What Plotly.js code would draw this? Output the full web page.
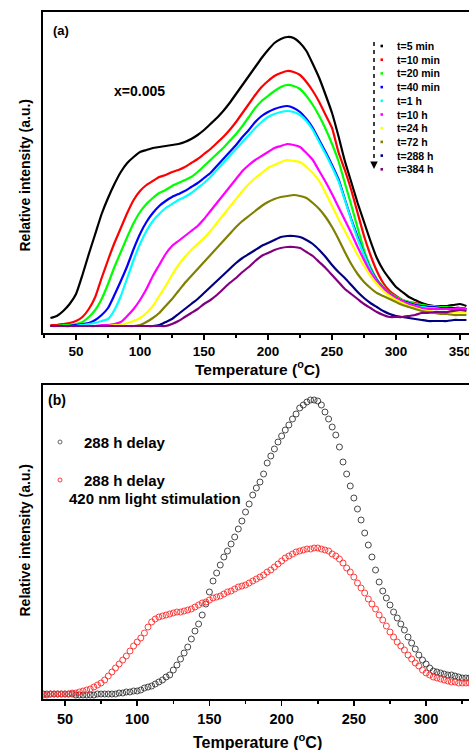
<!DOCTYPE html>
<html>
<head>
<meta charset="utf-8">
<script src="https://cdn.plot.ly/plotly-3.0.1.min.js"></script>
<style>
  html, body { margin: 0; padding: 0; background: #fff; overflow: hidden; }
  #chart { width: 469px; height: 750px; }
</style>
</head>
<body>
<div id="chart"></div>
<script>
// ---------- Panel (a): TL glow curves after different delays (x = 0.005) ----------
const tempA = [30, 35, 40, 45, 50, 55, 60, 65, 70, 75,
               80, 85, 90, 95, 100, 105, 110, 115, 120, 125,
               130, 135, 140, 145, 150, 155, 160, 165, 170, 175,
               180, 185, 190, 195, 200, 205, 210, 215, 220, 225,
               230, 235, 240, 245, 250, 255, 260, 265, 270, 275,
               280, 285, 290, 295, 300, 305, 310, 315, 320, 325,
               330, 335, 340, 345, 350, 355];

const delayLabels = ["t=5 min", "t=10 min", "t=20 min", "t=40 min", "t=1 h",
                     "t=10 h", "t=24 h", "t=72 h", "t=288 h", "t=384 h"];

const t5min = [15, 17, 22, 29, 39, 58, 79, 99, 119, 135,
               149, 161, 170, 176, 181, 183, 185, 186, 187, 188,
               189, 191, 194, 198, 203, 209, 215, 222, 230, 239,
               248, 257, 266, 275, 283, 290, 294, 296, 295, 290,
               282, 269, 255, 238, 220, 197, 172, 151, 130, 111,
               92, 75, 63, 54, 46, 41, 36, 33, 30, 28,
               27, 27, 27, 28, 29, 27];
const t10min = [8, 8, 9, 10, 12, 16, 24, 36, 55, 73,
                90, 105, 120, 133, 142, 148, 152, 156, 158, 161,
                163, 166, 170, 174, 179, 184, 190, 196, 203, 211,
                220, 229, 238, 246, 252, 257, 260, 262, 261, 258,
                251, 242, 231, 218, 205, 181, 163, 143, 120, 97,
                78, 62, 50, 42, 37, 33, 31, 30, 28, 27,
                26, 26, 25, 25, 25, 24];
const t20min = [7, 7, 8, 8, 9, 11, 16, 23, 34, 49,
                66, 81, 96, 110, 121, 129, 135, 140, 143, 147,
                150, 153, 156, 161, 167, 173, 179, 185, 192, 199,
                207, 216, 225, 232, 237, 242, 246, 248, 247, 244,
                237, 228, 217, 204, 189, 172, 150, 128, 105, 83,
                66, 54, 46, 40, 36, 33, 31, 29, 28, 27,
                27, 26, 26, 25, 25, 24];
const t40min = [7, 7, 7, 7, 8, 9, 10, 13, 18, 25,
                38, 52, 67, 84, 99, 111, 120, 127, 132, 136,
                139, 142, 146, 150, 155, 160, 167, 174, 181, 188,
                196, 203, 211, 217, 221, 224, 226, 227, 225, 221,
                214, 205, 193, 181, 168, 154, 134, 114, 96, 79,
                64, 53, 45, 39, 35, 32, 30, 28, 27, 26,
                26, 25, 25, 25, 25, 24];
const t1h = [7, 7, 7, 7, 7, 8, 9, 10, 12, 14,
             23, 37, 55, 73, 89, 102, 112, 119, 125, 129,
             133, 136, 140, 145, 150, 156, 163, 170, 177, 184,
             191, 198, 205, 211, 216, 219, 221, 222, 221, 218,
             212, 203, 191, 179, 166, 152, 133, 113, 94, 78,
             63, 52, 44, 38, 34, 31, 29, 27, 26, 25,
             25, 24, 24, 24, 24, 23];
const t10h = [7, 7, 7, 7, 7, 7, 7, 7, 8, 8,
              9, 11, 17, 24, 33, 44, 57, 68, 79, 87,
              92, 97, 102, 107, 114, 122, 130, 138, 146, 154,
              162, 168, 173, 177, 181, 185, 187, 189, 188, 186,
              180, 173, 162, 151, 139, 126, 113, 100, 86, 73,
              61, 52, 45, 39, 35, 32, 29, 27, 25, 24,
              24, 24, 24, 24, 25, 24];
const t24h = [7, 7, 7, 7, 7, 7, 7, 7, 7, 7,
              8, 8, 10, 12, 15, 20, 27, 37, 47, 58,
              68, 76, 83, 89, 95, 102, 110, 118, 126, 134,
              142, 149, 155, 160, 165, 168, 171, 173, 172, 171,
              166, 160, 152, 140, 127, 114, 102, 90, 78, 67,
              57, 49, 42, 37, 33, 30, 27, 25, 23, 22,
              21, 21, 21, 21, 21, 20];
const t72h = [7, 7, 7, 7, 7, 7, 7, 7, 7, 7,
              7, 7, 7, 7, 8, 11, 15, 20, 27, 34,
              42, 50, 57, 64, 71, 78, 85, 92, 99, 106,
              112, 117, 122, 127, 131, 134, 136, 137, 138, 137,
              135, 130, 124, 116, 106, 94, 81, 69, 59, 51,
              45, 40, 37, 34, 31, 28, 26, 24, 22, 21,
              20, 19, 19, 18, 18, 18];
const t288h = [7, 7, 7, 7, 7, 7, 7, 7, 7, 7,
               7, 7, 7, 7, 7, 7, 7, 8, 11, 14,
               19, 24, 29, 34, 40, 46, 52, 58, 64, 70,
               75, 79, 83, 87, 90, 93, 96, 97, 97, 96,
               93, 89, 83, 76, 68, 61, 55, 48, 41, 35,
               30, 26, 22, 19, 17, 16, 15, 14, 13, 12,
               12, 12, 12, 13, 13, 13];
const t384h = [7, 7, 7, 7, 7, 7, 7, 7, 7, 7,
               7, 7, 7, 7, 7, 7, 7, 7, 7, 9,
               12, 16, 20, 24, 29, 33, 38, 44, 50, 55,
               61, 66, 72, 77, 80, 83, 85, 86, 86, 85,
               81, 77, 71, 65, 58, 51, 44, 39, 34, 29,
               25, 21, 18, 16, 16, 16, 17, 18, 20, 20,
               21, 21, 21, 22, 23, 22];

const seriesA = [t5min, t10min, t20min, t40min, t1h, t10h, t24h, t72h, t288h, t384h];
const colorsA = ["#000000", "#ff0000", "#00ff00", "#0000ff", "#00ffff",
                 "#ff00ff", "#ffff00", "#808000", "#000080", "#800080"];

// ---------- Panel (b): 288 h delay, with and without 420 nm stimulation ----------
const tempB = [35, 37.5, 40, 42.5, 45, 47.5, 50, 52.5, 55, 57.5,
               60, 62.5, 65, 67.5, 70, 72.5, 75, 77.5, 80, 82.5,
               85, 87.5, 90, 92.5, 95, 97.5, 100, 102.5, 105, 107.5,
               110, 112.5, 115, 117.5, 120, 122.5, 125, 127.5, 130, 132.5,
               135, 137.5, 140, 142.5, 145, 147.5, 150, 152.5, 155, 157.5,
               160, 162.5, 165, 167.5, 170, 172.5, 175, 177.5, 180, 182.5,
               185, 187.5, 190, 192.5, 195, 197.5, 200, 202.5, 205, 207.5,
               210, 212.5, 215, 217.5, 220, 222.5, 225, 227.5, 230, 232.5,
               235, 237.5, 240, 242.5, 245, 247.5, 250, 252.5, 255, 257.5,
               260, 262.5, 265, 267.5, 270, 272.5, 275, 277.5, 280, 282.5,
               285, 287.5, 290, 292.5, 295, 297.5, 300, 302.5, 305, 307.5,
               310, 312.5, 315, 317.5, 320, 322.5, 325, 327.5, 330];

const delay288 = [5, 5, 5, 5, 5, 5, 5, 5, 5, 4,
                  4, 4, 4, 4, 4, 5, 5, 5, 5, 5,
                  5, 6, 6, 7, 7, 8, 8, 9, 11, 12,
                  13, 15, 17, 19, 22, 24, 29, 34, 40, 46,
                  52, 60, 68, 75, 84, 95, 107, 118, 126, 134,
                  142, 148, 155, 162, 170, 178, 187, 195, 204, 211,
                  217, 225, 236, 243, 250, 257, 263, 269, 274, 280,
                  285, 291, 294, 297, 299, 299, 298, 294, 287, 280,
                  272, 264, 252, 237, 225, 213, 201, 190, 179, 166,
                  154, 142, 129, 117, 108, 101, 94, 87, 81, 75,
                  69, 62, 56, 50, 44, 39, 35, 31, 28, 27,
                  26, 25, 24, 24, 23, 22, 21, 21, 21];
const delay288Light = [4, 4, 5, 5, 5, 5, 5, 5, 6, 6,
                       7, 8, 9, 10, 12, 14, 16, 19, 23, 27,
                       31, 35, 39, 43, 48, 53, 57, 61, 66, 72,
                       77, 80, 82, 83, 84, 85, 86, 87, 87, 88,
                       89, 90, 92, 94, 96, 97, 99, 101, 102, 103,
                       105, 107, 108, 110, 112, 113, 114, 116, 118, 120,
                       122, 124, 127, 129, 132, 135, 138, 141, 143, 145,
                       147, 148, 149, 150, 150, 151, 151, 150, 149, 148,
                       145, 143, 140, 136, 131, 127, 122, 116, 111, 106,
                       100, 95, 90, 84, 79, 73, 67, 62, 57, 53,
                       49, 44, 40, 36, 33, 29, 26, 24, 22, 21,
                       20, 19, 18, 17, 17, 16, 16, 16, 16];

// ---------- page geometry helpers (pixel -> paper) ----------
const W = 469, H = 750, L = 43;
const px = p => (p - L) / (W - L);
const py = p => 1 - p / H;

const FONT = "Liberation Sans, Arial, Helvetica, sans-serif";

const traces = [];
seriesA.forEach((vals, i) => {
  traces.push({
    type: "scatter", mode: "lines", name: delayLabels[i],
    x: tempA, y: vals, xaxis: "x", yaxis: "y",
    line: { color: colorsA[i], width: 2.2, shape: "spline", smoothing: 0.5 },
    showlegend: false, hoverinfo: "skip"
  });
});
traces.push({
  type: "scatter", mode: "markers", name: "288 h delay",
  x: tempB, y: delay288, xaxis: "x2", yaxis: "y2",
  marker: { symbol: "circle-open", size: 6, color: "#333333", line: { width: 0.9 } },
  showlegend: false, hoverinfo: "skip"
});
traces.push({
  type: "scatter", mode: "markers", name: "288 h delay, 420 nm light stimulation",
  x: tempB, y: delay288Light, xaxis: "x2", yaxis: "y2",
  marker: { symbol: "circle-open", size: 6, color: "#ff2a2a", line: { width: 0.9 } },
  showlegend: false, hoverinfo: "skip"
});

function xAxis(range, anchor, fontSize, standoff) {
  return {
    anchor: anchor, range: range, domain: [0, 1],
    tick0: 0, dtick: 50, ticks: "outside", ticklen: 5, tickwidth: 1.5, tickcolor: "#000",
    minor: { ticks: "outside", ticklen: 3, tickwidth: 1.5, tickcolor: "#000", tick0: 0, dtick: 25, showgrid: false },
    showline: true, linewidth: 2, linecolor: "#000", mirror: true,
    showgrid: false, zeroline: false,
    ticklabeloverflow: "allow",
    ticklabelstandoff: standoff,
    tickfont: { family: FONT, size: fontSize, color: "#000", weight: "bold" }
  };
}
function yAxis(range, domain, anchor) {
  return {
    anchor: anchor, range: range, domain: domain,
    showline: true, linewidth: 2, linecolor: "#000", mirror: false,
    showticklabels: false, ticks: "", showgrid: false, zeroline: false
  };
}

const ann = [];
function txt(text, x, y, size, opts) {
  ann.push(Object.assign({
    text: text, xref: "paper", yref: "paper", x: px(x), y: py(y),
    xanchor: "left", yanchor: "middle", showarrow: false,
    font: { family: FONT, size: size, color: "#000", weight: "bold" }
  }, opts || {}));
}

// panel labels and notes
txt("(a)", 51, 30, 13);
txt("x=0.005", 112, 91, 14);
txt("(b)", 46, 400, 14);

// delay legend of panel (a)
const shapes = [];
delayLabels.forEach((lab, i) => {
  const yy = 46 + i * 13.7;
  txt(lab, 395, yy, 10.5);
  shapes.push({
    type: "rect", xref: "paper", yref: "paper",
    x0: px(380.5), x1: px(383), y0: py(yy + 1.3), y1: py(yy - 1.3),
    fillcolor: colorsA[i], line: { width: 0 }
  });
});
// dashed arrow showing increasing delay
shapes.push({
  type: "line", xref: "paper", yref: "paper",
  x0: px(374), x1: px(374), y0: py(42), y1: py(160),
  line: { color: "#000", width: 1.5, dash: "4px,4px" }
});
ann.push({
  text: " ", xref: "paper", yref: "paper", x: px(374), y: py(169),
  ax: 0, ay: -9, showarrow: true, arrowhead: 2, arrowsize: 1, arrowwidth: 1.5, arrowcolor: "#000",
  font: { size: 4 }
});

// legend of panel (b)
txt("288 h delay", 82, 442, 15);
txt("288 h delay", 82, 480, 15);
txt("420 nm light stimulation", 67, 498, 15);
shapes.push({ type: "circle", xref: "paper", yref: "paper",
  x0: px(58), x1: px(62), y0: py(444), y1: py(440), line: { color: "#555", width: 0.9 } });
shapes.push({ type: "circle", xref: "paper", yref: "paper",
  x0: px(58), x1: px(62), y0: py(482), y1: py(478), line: { color: "#ff2a2a", width: 0.9 } });

// axis titles
txt("Relative intensity (a.u.)", 24.5, 176, 14, { xanchor: "center", textangle: -90 });
txt("Relative intensity (a.u.)", 24.5, 541, 14, { xanchor: "center", textangle: -90 });
txt("Temperature (<sup>o</sup>C)", 257, 368, 15.5, { xanchor: "center" });
txt("Temperature (<sup>o</sup>C)", 257, 741, 16, { xanchor: "center" });

const layout = {
  width: W, height: H,
  margin: { l: L, r: 0, t: 0, b: 0, pad: 0 },
  paper_bgcolor: "#fff", plot_bgcolor: "#fff",
  font: { family: FONT, color: "#000" },
  showlegend: false,
  xaxis: xAxis([24.2, 357], "y", 13.5, 0),
  yaxis: yAxis([0, 321], [1 - 333 / H, 1 - 12 / H], "x"),
  xaxis2: xAxis([34.8, 329.7], "y2", 14.5, 1),
  yaxis2: yAxis([0, 314], [1 - 699 / H, 1 - 385 / H], "x2"),
  annotations: ann,
  shapes: shapes
};

Plotly.newPlot("chart", traces, layout, { staticPlot: true, displayModeBar: false });
</script>
</body>
</html>
